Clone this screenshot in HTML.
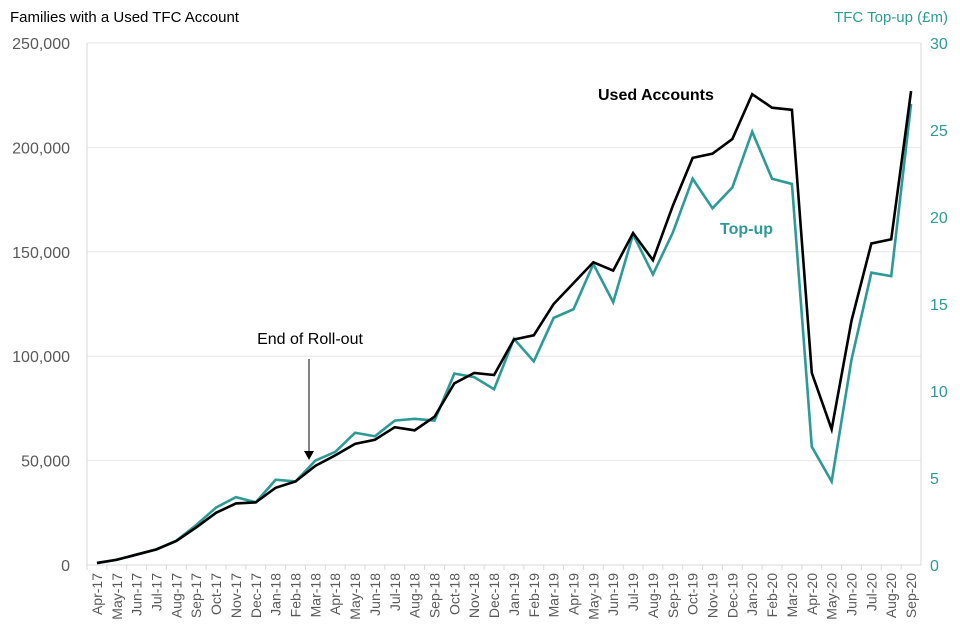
<!DOCTYPE html>
<html><head><meta charset="utf-8"><style>
body{margin:0;background:#fff;}
svg{display:block;font-family:"Liberation Sans",sans-serif;}
</style></head><body>
<svg id="chart" width="960" height="640"></svg>
<script>
const categories=["Apr-17","May-17","Jun-17","Jul-17","Aug-17","Sep-17","Oct-17","Nov-17","Dec-17","Jan-18","Feb-18","Mar-18","Apr-18","May-18","Jun-18","Jul-18","Aug-18","Sep-18","Oct-18","Nov-18","Dec-18","Jan-19","Feb-19","Mar-19","Apr-19","May-19","Jun-19","Jul-19","Aug-19","Sep-19","Oct-19","Nov-19","Dec-19","Jan-20","Feb-20","Mar-20","Apr-20","May-20","Jun-20","Jul-20","Aug-20","Sep-20"];
const usedAccounts=[1000,2500,5000,7500,11500,18000,25000,29500,30000,37000,40000,47500,52500,58000,60000,66000,64500,71000,87000,92000,91000,108000,110000,125000,135000,145000,141000,159000,146000,172000,195000,197000,204000,225500,219000,218000,92000,65000,117000,154000,156000,227000];
const topUp=[0.1,0.3,0.6,0.9,1.4,2.3,3.3,3.9,3.6,4.9,4.8,6.0,6.5,7.6,7.4,8.3,8.4,8.3,11.0,10.8,10.1,13.0,11.7,14.2,14.7,17.3,15.1,19.0,16.7,19.1,22.2,20.5,21.7,24.9,22.2,21.9,6.8,4.8,11.8,16.8,16.6,26.5];
const leftTicks=[0,50000,100000,150000,200000,250000];
const rightTicks=[0,5,10,15,20,25,30];

const NS="http://www.w3.org/2000/svg";
const svg=document.getElementById('chart');
const X0=87,X1=921,Y0=565,Y1=43;
const bw=(X1-X0)/categories.length;
const xs=i=>X0+(i+0.5)*bw;
const yL=v=>Y0-(v/250000)*(Y0-Y1);
const yR=v=>Y0-(v/30)*(Y0-Y1);
function el(t,a,txt){const e=document.createElementNS(NS,t);for(const k in a)e.setAttribute(k,a[k]);if(txt!=null)e.textContent=txt;svg.appendChild(e);return e;}

leftTicks.forEach(v=>{
  if(v>0){const g=el('line',{x1:X0,x2:X1,y1:yL(v),y2:yL(v),stroke:'#e6e6e6','stroke-width':1});
  
  }
  const t=el('text',{x:70,y:yL(v)+6,'text-anchor':'end','font-size':16,fill:'#595959'},v.toLocaleString('en-US'));
  
  
});
rightTicks.forEach(v=>{
  const t=el('text',{x:930,y:yR(v)+6,'font-size':16,fill:'#2e9a96'},String(v));
  
  
});
const ax=el('line',{x1:X0,x2:X0,y1:Y1,y2:Y0,stroke:'#d9d9d9'});


const ax2=el('line',{x1:X1,x2:X1,y1:Y1,y2:Y0,stroke:'#d9d9d9'});


const xa=el('line',{x1:X0,x2:X1,y1:Y0,y2:Y0,stroke:'#d9d9d9'});


categories.forEach((c,i)=>{
  const tk=el('line',{x1:X0+i*bw,x2:X0+i*bw,y1:Y0,y2:Y0+5,stroke:'#d9d9d9'});
  
  
  const t=el('text',{x:0,y:0,'text-anchor':'end','font-size':14,fill:'#595959',transform:`translate(${xs(i)+5},${Y0+8}) rotate(-90)`},c);
  
  
});
const tp=el('polyline',{points:topUp.map((v,i)=>xs(i)+','+yR(v)).join(' '),fill:'none',stroke:'#2e9a96','stroke-width':2.6,'stroke-linejoin':'miter'});


const ua=el('polyline',{points:usedAccounts.map((v,i)=>xs(i)+','+yL(v)).join(' '),fill:'none',stroke:'#000','stroke-width':2.6,'stroke-linejoin':'miter'});



const t1=el('text',{x:10,y:22,'font-size':15,fill:'#000'},'Families with a Used TFC Account');


const t2=el('text',{x:948,y:22,'text-anchor':'end','font-size':15,fill:'#2e9a96'},'TFC Top-up (£m)');


const a1=el('text',{x:310,y:344,'text-anchor':'middle','font-size':16,fill:'#000'},'End of Roll-out');


const ar=el('line',{x1:309,x2:309,y1:359,y2:452,stroke:'#000','stroke-width':1});


const ah=el('polygon',{points:'304,451 314,451 309,460',fill:'#000'});


const l1=el('text',{x:598,y:100,'font-size':16,'font-weight':'bold',fill:'#000'},'Used Accounts');


const l2=el('text',{x:720,y:234,'font-size':16,'font-weight':'bold',fill:'#2e9a96'},'Top-up');


</script>
</body></html>
